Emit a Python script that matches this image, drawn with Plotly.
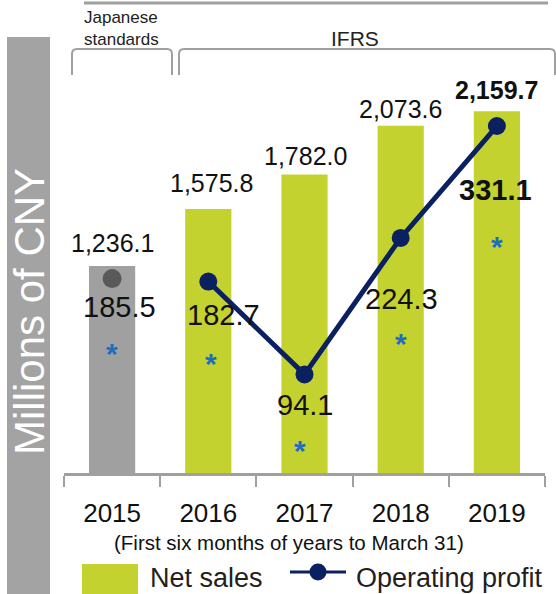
import plotly.graph_objects as go

# --- data -------------------------------------------------------------
years = ["2015", "2016", "2017", "2018", "2019"]
net_sales = [1236.1, 1575.8, 1782.0, 2073.6, 2159.7]
operating_profit = [185.5, 182.7, 94.1, 224.3, 331.1]
sales_labels = ["1,236.1", "1,575.8", "1,782.0", "2,073.6", "2,159.7"]
profit_labels = ["185.5", "182.7", "94.1", "224.3", "331.1"]

# --- page geometry (pixels) --------------------------------------------
W, H = 556, 594
BASE_Y = 473            # pixel row of the category axis
PLOT_X0, PLOT_X1 = 64, 545
SALES_PX_PER_UNIT = 0.1675
PROFIT_PX_PER_UNIT = 1.048


def px(x):
    return x / W


def py(y):
    return 1 - y / H


FONT = "Arial, 'Liberation Sans', sans-serif"
GREY = "#a0a0a0"
LIME = "#c4d230"
NAVY = "#0a2060"
DOT_GREY = "#595959"
STAR_BLUE = "#1f6dbf"
TEXT = "#111111"

# label placement tweaks (pixels; x right, y down)
sales_label_dy = [-23, -26, -19, -17, -21]
sales_label_dx = [0, 3, 1, 0, 0]
profit_label_dx = [7, 15, 0, 1, -1]
profit_label_dy = [28, 33, 31, 61, 64]
star_dx = [0, 3, -5, 0, 0]
star_dy = [67, 74, 68, 98, 112]
bold_last = True

fig = go.Figure()

bar_colors = [GREY] + [LIME] * (len(years) - 1)
fig.add_trace(go.Bar(
    x=years, y=net_sales, width=0.48,
    marker=dict(color=bar_colors, line=dict(width=0)),
    name="Net sales", showlegend=False, hoverinfo="skip",
))

# 2015 (Japanese standards) shown as a standalone grey point
fig.add_trace(go.Scatter(
    x=years[:1], y=operating_profit[:1], yaxis="y2", mode="markers",
    marker=dict(color=DOT_GREY, size=19),
    showlegend=False, hoverinfo="skip",
))
# IFRS years joined by a line
fig.add_trace(go.Scatter(
    x=years[1:], y=operating_profit[1:], yaxis="y2", mode="lines+markers",
    line=dict(color=NAVY, width=5), marker=dict(color=NAVY, size=18),
    name="Operating profit", showlegend=False, hoverinfo="skip",
))

annotations = []
for i, yr in enumerate(years):
    bold = bold_last and i == len(years) - 1
    s_txt = f"<b>{sales_labels[i]}</b>" if bold else sales_labels[i]
    p_txt = f"<b>{profit_labels[i]}</b>" if bold else profit_labels[i]
    # category axes take the category's serial number as annotation position
    annotations.append(dict(
        x=i, y=net_sales[i], xref="x", yref="y", text=s_txt, showarrow=False,
        xshift=sales_label_dx[i], yshift=-sales_label_dy[i],
        font=dict(family=FONT, size=25, color=TEXT),
    ))
    annotations.append(dict(
        x=i, y=operating_profit[i], xref="x", yref="y2", text=p_txt, showarrow=False,
        xshift=profit_label_dx[i], yshift=-profit_label_dy[i],
        font=dict(family=FONT, size=29, color=TEXT),
    ))
    annotations.append(dict(
        x=i, y=operating_profit[i], xref="x", yref="y2", text="<b>*</b>", showarrow=False,
        xshift=star_dx[i], yshift=-star_dy[i] - 8,
        font=dict(family=FONT, size=30, color=STAR_BLUE),
    ))

# axis caption, period note, accounting standard headings
annotations += [
    dict(x=px(29), y=py(312), xref="paper", yref="paper", text="Millions of CNY",
         textangle=-90, showarrow=False, xanchor="center", yanchor="middle",
         font=dict(family=FONT, size=42, color="#ffffff")),
    dict(x=px(288.5), y=py(542), xref="paper", yref="paper",
         text="(First six months of years to March 31)", showarrow=False,
         xanchor="center", yanchor="middle",
         font=dict(family=FONT, size=20.5, color=TEXT)),
    dict(x=px(82), y=py(28.5), xref="paper", yref="paper",
         text="Japanese<br>standards", showarrow=False, align="left",
         xanchor="left", yanchor="middle",
         font=dict(family=FONT, size=17, color="#222222")),
    dict(x=px(355), y=py(39), xref="paper", yref="paper", text="IFRS",
         showarrow=False, xanchor="center", yanchor="middle",
         font=dict(family=FONT, size=21, color="#222222")),
    # legend texts
    dict(x=px(148), y=py(578), xref="paper", yref="paper", text="Net sales",
         showarrow=False, xanchor="left", yanchor="middle",
         font=dict(family=FONT, size=27, color="#231f20")),
    dict(x=px(354), y=py(578), xref="paper", yref="paper", text="Operating profit",
         showarrow=False, xanchor="left", yanchor="middle",
         font=dict(family=FONT, size=27, color="#231f20")),
]


def bracket(x0, x1, ytop, ybot, r=5):
    return (f"M {px(x0)},{py(ybot)} L {px(x0)},{py(ytop + r)} "
            f"Q {px(x0)},{py(ytop)} {px(x0 + r)},{py(ytop)} "
            f"L {px(x1 - r)},{py(ytop)} "
            f"Q {px(x1)},{py(ytop)} {px(x1)},{py(ytop + r)} "
            f"L {px(x1)},{py(ybot)}")


shapes = [
    # grey side band behind the axis caption
    dict(type="rect", xref="paper", yref="paper", x0=px(7), x1=px(50),
         y0=py(600), y1=py(37), fillcolor="#a3a3a3", line=dict(width=0), layer="below"),
    # top rule
    dict(type="line", xref="paper", yref="paper", x0=px(84), x1=px(548),
         y0=py(3), y1=py(3), line=dict(color=GREY, width=3)),
    # brackets
    dict(type="path", xref="paper", yref="paper", path=bracket(72, 172, 49, 75),
         line=dict(color=GREY, width=2)),
    dict(type="path", xref="paper", yref="paper", path=bracket(179, 555, 49, 75),
         line=dict(color=GREY, width=2)),
    # legend keys
    dict(type="rect", xref="paper", yref="paper", x0=px(82), x1=px(138),
         y0=py(600), y1=py(564), fillcolor=LIME, line=dict(width=0)),
    dict(type="line", xref="paper", yref="paper", x0=px(290), x1=px(346),
         y0=py(572), y1=py(572), line=dict(color=NAVY, width=3)),
    dict(type="circle", xref="paper", yref="paper", x0=px(309.5), x1=px(326.5),
         y0=py(580.5), y1=py(563.5), fillcolor=NAVY, line=dict(width=0)),
]

fig.update_layout(
    width=W, height=H,
    margin=dict(l=0, r=0, t=0, b=0),
    paper_bgcolor="#ffffff", plot_bgcolor="rgba(0,0,0,0)",
    showlegend=False,
    xaxis=dict(
        domain=[px(PLOT_X0), px(PLOT_X1)], type="category", range=[-0.5, 4.5],
        showline=True, linecolor=GREY, linewidth=3,
        ticks="outside", tickson="boundaries", ticklen=11, tickwidth=2, tickcolor=GREY,
        ticklabelstandoff=15,
        tickfont=dict(family=FONT, size=26, color=TEXT),
        showgrid=False, zeroline=False, fixedrange=True,
    ),
    yaxis=dict(
        domain=[py(BASE_Y), 1], range=[0, BASE_Y / SALES_PX_PER_UNIT],
        visible=False, fixedrange=True,
    ),
    yaxis2=dict(
        overlaying="y", range=[0, BASE_Y / PROFIT_PX_PER_UNIT],
        visible=False, fixedrange=True,
    ),
    annotations=annotations,
    shapes=shapes,
)

fig.write_html("out.html", config={"displayModeBar": False})
